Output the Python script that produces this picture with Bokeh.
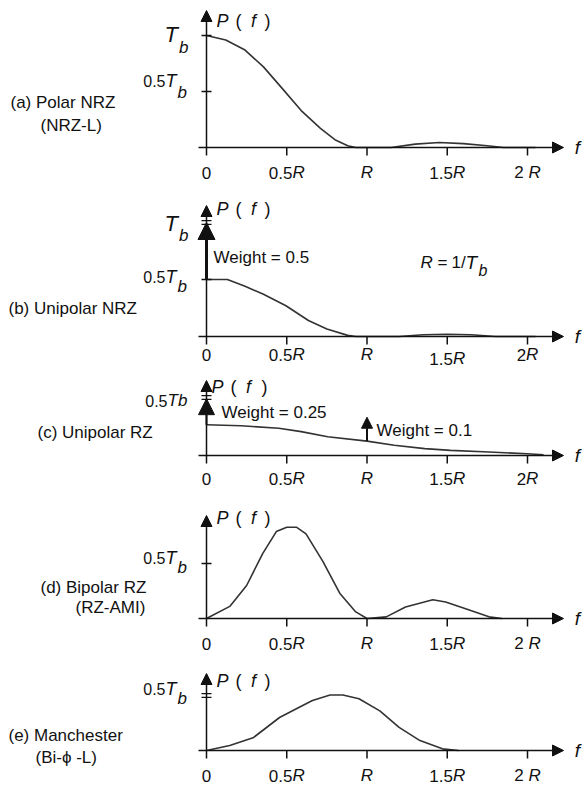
from bokeh.plotting import figure
from bokeh.models import Range1d, Arrow, NormalHead
from bokeh.layouts import column
from bokeh.embed import file_html
from bokeh.resources import INLINE
from bokeh.core.properties import value

# ---------------- data (f in units of R, P in units of Tb) ----------------
f_a = [0, 0.12, 0.24, 0.355, 0.47, 0.59, 0.71, 0.80, 0.88, 0.93, 1.15, 1.3, 1.45, 1.6, 1.75, 1.85, 2.05]
p_a = [1.0, 0.96, 0.87, 0.72, 0.53, 0.33, 0.17, 0.07, 0.015, 0.0, 0.0, 0.03, 0.045, 0.035, 0.015, 0.0, 0.0]

f_b = [0, 0.13, 0.24, 0.355, 0.495, 0.635, 0.75, 0.88, 0.93, 1.2, 1.35, 1.5, 1.65, 1.8, 2.05]
p_b = [0.5, 0.5, 0.44, 0.37, 0.27, 0.14, 0.065, 0.01, 0.0, 0.0, 0.015, 0.02, 0.015, 0.0, 0.0]

f_c = [0, 0.215, 0.45, 0.59, 0.755, 1.0, 1.17, 1.36, 1.52, 1.76, 2.0, 2.1]
p_c = [0.265, 0.256, 0.235, 0.206, 0.162, 0.124, 0.088, 0.059, 0.044, 0.03, 0.015, 0.006]

f_d = [0, 0.145, 0.25, 0.35, 0.435, 0.5, 0.56, 0.62, 0.725, 0.83, 0.93, 1.0, 1.12, 1.24, 1.41, 1.49, 1.61, 1.76, 1.84]
p_d = [0, 0.11, 0.30, 0.59, 0.79, 0.83, 0.83, 0.77, 0.52, 0.23, 0.06, 0.0, 0.015, 0.105, 0.17, 0.15, 0.09, 0.015, 0.0]

f_e = [0, 0.145, 0.29, 0.455, 0.56, 0.66, 0.77, 0.85, 0.95, 1.08, 1.2, 1.33, 1.47, 1.57]
p_e = [0, 0.045, 0.115, 0.30, 0.38, 0.455, 0.505, 0.505, 0.47, 0.36, 0.21, 0.09, 0.015, 0.0]

# impulses (position, base, tip)
imp_b = [(0.0, 0.5, 1.0)]
imp_c = [(0.0, 0.265, 0.49), (1.0, 0.124, 0.33)]

tick_f = [0, 0.5, 1.0, 1.5, 2.0]
ticks_a = ["0", "0.5R", "R", "1.5R", "2 R"]
ticks_b = ["0", "0.5R", "R", "1.5R", "2R"]
ticks_c = ["0", "0.5R", "R", "1.5R", "2R"]
ticks_d = ["0", "0.5R", "R", "1.5R", "2 R"]
ticks_e = ["0", "0.5R", "R", "1.5R", "2 R"]

names_a = ["(a) Polar NRZ", "(NRZ-L)"]
names_b = ["(b) Unipolar NRZ"]
names_c = ["(c) Unipolar RZ"]
names_d = ["(d) Bipolar RZ", "(RZ-AMI)"]
names_e = ["(e) Manchester", "(Bi-\u03d5 -L)"]

# ---------------- styling / layout ----------------
FONT = "Liberation Sans"
INK = "#111111"
CURVE = "#333333"
W = 587
X0PX = 206.0     # page x of f = 0
RPX = 160.5      # pixels per R
TICK_FS = 17
CW = {"0": .556, "1": .556, "2": .556, "5": .556, ".": .278, " ": .278}


def fx(px):
    return (px - X0PX) / RPX


class Panel:
    def __init__(self, top, bottom, axis, scale):
        self.top, self.bottom, self.axis, self.scale = top, bottom, axis, scale
        self.p = figure(width=W, height=bottom - top,
                        x_range=Range1d(fx(0), fx(W)),
                        y_range=Range1d((axis - bottom) / scale, (axis - top) / scale),
                        toolbar_location=None, output_backend="svg",
                        x_axis_location=None, y_axis_location=None,
                        min_border=0, outline_line_color=None)
        self.p.grid.visible = False

    def fy(self, py):
        return (self.axis - py) / self.scale

    def text(self, px, py, s, size=17, style="normal", align="left"):
        self.p.text(x=[fx(px)], y=[self.fy(py)], text=[s], text_font=value(FONT),
                    text_font_size=f"{size}px", text_font_style=style,
                    text_align=align, text_baseline="middle", text_color=INK)

    def axes(self, tip_py, yticks, double=()):
        p = self.p
        px8 = 8 / self.scale
        p.add_layout(Arrow(end=NormalHead(size=11, fill_color=INK, line_color=INK, line_width=1),
                           x_start=fx(198), y_start=0, x_end=fx(563), y_end=0,
                           line_color=INK, line_width=1.5))
        p.add_layout(Arrow(end=NormalHead(size=11, fill_color=INK, line_color=INK, line_width=1),
                           x_start=0, y_start=-px8, x_end=0, y_end=self.fy(tip_py),
                           line_color=INK, line_width=1.5))
        p.segment(x0=tick_f[1:], y0=[0] * 4, x1=tick_f[1:], y1=[-px8] * 4,
                  line_color=INK, line_width=1.5)
        d = 5 / RPX
        for yv in yticks:
            p.segment(x0=[-d], y0=[yv], x1=[d], y1=[yv], line_color=INK, line_width=1.5)
        for yv in double:
            g = 1.8 / self.scale
            p.segment(x0=[-d, -d], y0=[yv - g, yv + g], x1=[d, d], y1=[yv - g, yv + g],
                      line_color=INK, line_width=1.2)
        self.text(577, self.axis, "f", size=19, style="italic", align="center")

    def ticklabels(self, labels, py, dy=None):
        dy = dy or {}
        for i, (fv, lab) in enumerate(zip(tick_f, labels)):
            unit = "R" if lab.endswith("R") else ""
            num = lab[:-1] if unit else lab
            wn = sum(CW.get(c, .556) for c in num) * TICK_FS
            wu = 0.722 * TICK_FS if unit else 0
            off = -(wn + wu) / 2 + wn
            yv = self.fy(py + dy.get(i, 0))
            if num:
                self.p.text(x=[fv], y=[yv], text=[num], x_offset=off,
                            text_align="right", text_baseline="middle", text_font=value(FONT),
                            text_font_size=f"{TICK_FS}px", text_color=INK)
            if unit:
                self.p.text(x=[fv], y=[yv], text=[unit], x_offset=off,
                            text_align="left", text_baseline="middle", text_font=value(FONT),
                            text_font_size=f"{TICK_FS}px", text_font_style="italic",
                            text_color=INK)

    def pf(self, py, dx=0, close_dx=0):
        self.text(216 + dx, py, "P", size=18, style="italic")
        self.text(238 + dx, py, "(", size=18, align="center")
        self.text(253 + dx, py, "f", size=18, style="italic", align="center")
        self.text(267 + dx + close_dx, py, ")", size=18, align="center")

    def tb(self, tx, py_t, py_b, half=False, tsize=21, bsize=16):
        if half:
            self.text(tx, py_t, "0.5", size=16, align="right")
        self.text(tx, py_t, "T", size=tsize, style="italic", align="left")
        self.text(tx + 0.611 * tsize + 1, py_b, "b", size=bsize, style="italic", align="left")

    def curve(self, f, pv):
        self.p.line(f, pv, line_color=CURVE, line_width=1.6)

    def impulses(self, imps, sizes, widths):
        for (fv, lo, hi), s, w in zip(imps, sizes, widths):
            self.p.add_layout(Arrow(end=NormalHead(size=s, fill_color=INK, line_color=INK, line_width=1),
                                    x_start=fv, y_start=lo, x_end=fv, y_end=hi,
                                    line_color=INK, line_width=w))


# ---- panel a ----
A = Panel(0, 188, 147, 112)
A.curve(f_a, p_a)
A.axes(10, [0.5, 1.0])
A.ticklabels(ticks_a, 172)
A.pf(20)
A.tb(164, 34, 47, tsize=22, bsize=17)
A.tb(165, 80, 92, half=True, tsize=18, bsize=17)
A.text(10, 102, names_a[0])
A.text(40, 125, names_a[1])

# ---- panel b ----
B = Panel(188, 371, 336, 114)
B.curve(f_b, p_b)
B.axes(205, [0.5], double=[1.0])
B.impulses(imp_b, [17], [3])
B.ticklabels(ticks_b, 354, dy={3: 4})
B.pf(208)
B.tb(164, 223, 235, tsize=22, bsize=17)
B.tb(165, 276, 286, half=True, tsize=18, bsize=17)
B.text(213, 257, "Weight = 0.5")
B.text(420, 262, "R", size=17, style="italic")
B.text(437, 262, "=", size=17)
B.text(451, 262, "1/", size=17)
B.text(465, 262, "T", size=19, style="italic")
B.text(478, 270, "b", size=16, style="italic")
B.text(8, 308, names_b[0])

# ---- panel c ----
C = Panel(371, 490, 455, 116)
C.curve(f_c, p_c)
C.axes(380, [], double=[0.5])
C.impulses(imp_c, [16, 11], [2, 2])
C.ticklabels(ticks_c, 478)
C.pf(386, dx=-5, close_dx=2)
C.text(167, 400, "0.5", size=16, align="right")
C.text(167, 400, "Tb", size=17, style="italic")
C.text(221, 412, "Weight = 0.25")
C.text(376, 430, "Weight = 0.1")
C.text(37, 432, names_c[0])

# ---- panel d ----
D = Panel(490, 657, 618, 110)
D.curve(f_d, p_d)
D.axes(515, [0.5])
D.ticklabels(ticks_d, 643)
D.pf(517)
D.tb(165, 557, 567, half=True, tsize=18, bsize=17)
D.text(40, 587, names_d[0])
D.text(75, 607, names_d[1])

# ---- panel e ----
E = Panel(657, 788, 750, 110)
E.curve(f_e, p_e)
E.axes(673, [], double=[0.5])
E.ticklabels(ticks_e, 775)
E.pf(680)
E.tb(165, 688, 698, half=True, tsize=18, bsize=17)
E.text(8, 735, names_e[0])
E.text(35, 757, names_e[1])

layout = column(A.p, B.p, C.p, D.p, E.p)
open("out.html", "w").write(file_html(layout, INLINE))
